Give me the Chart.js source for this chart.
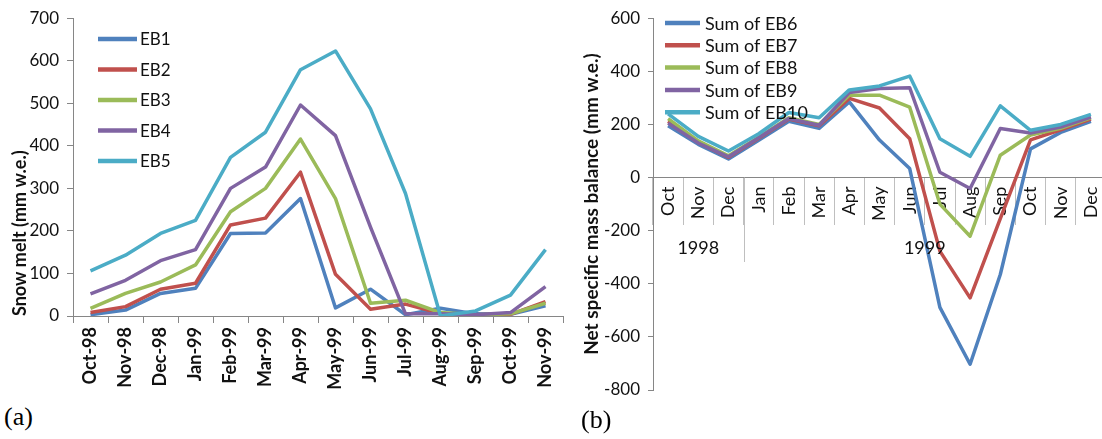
<!DOCTYPE html>
<html>
<head>
<meta charset="utf-8">
<script src="https://cdn.jsdelivr.net/npm/chart.js@4.4.0/dist/chart.umd.min.js"></script>
<style>
  body { margin: 0; background: #fff; overflow: hidden; width: 1102px; height: 439px; position: relative; }
  #wa { position: absolute; left: 0; top: 0; width: 600px; height: 400px; }
  #wb { position: absolute; left: 560px; top: 0; width: 560px; height: 439px; }
  .tag { position: absolute; font-family: "Liberation Serif", serif; font-size: 26px; color: #000; line-height: 30px; }
</style>
</head>
<body>
<div id="wa"><canvas id="chartA"></canvas></div>
<div id="wb"><canvas id="chartB"></canvas></div>
<div class="tag" style="left:4px; top:402px">(a)</div>
<div class="tag" style="left:581px; top:405px">(b)</div>
<script>
// panel (a) - snow melt
const monthsA = ["Oct-98", "Nov-98", "Dec-98", "Jan-99", "Feb-99", "Mar-99", "Apr-99",
                 "May-99", "Jun-99", "Jul-99", "Aug-99", "Sep-99", "Oct-99", "Nov-99"];
const eb1 = [3, 14, 53, 65, 194, 195, 276, 19, 63, 3, 18, 5, 4, 24];
const eb2 = [8, 22, 63, 77, 214, 230, 338, 98, 16, 28, 6, 3, 4, 34];
const eb3 = [18, 53, 80, 120, 245, 300, 416, 276, 30, 37, 8, 3, 5, 30];
const eb4 = [52, 84, 130, 156, 300, 350, 496, 424, 209, 5, 5, 3, 8, 69];
const eb5 = [106, 143, 194, 225, 373, 432, 579, 623, 487, 288, 0, 12, 49, 156];

// panel (b) - net specific mass balance
const monthsB = ["Oct", "Nov", "Dec", "Jan", "Feb", "Mar", "Apr", "May",
                 "Jun", "Jul", "Aug", "Sep", "Oct", "Nov", "Dec"];
const years = ["1998", "1999"];
const yearSpan = [3, 12];
const eb6 = [195, 125, 70, 140, 212, 185, 285, 141, 34, -489, -703, -365, 108, 170, 212];
const eb7 = [212, 132, 76, 148, 220, 195, 298, 262, 146, -277, -453, -155, 142, 180, 220];
const eb8 = [222, 138, 82, 152, 225, 200, 310, 310, 265, -100, -221, 84, 160, 185, 225];
const eb9 = [205, 130, 78, 150, 222, 197, 320, 335, 338, 20, -41, 185, 168, 190, 228];
const eb10 = [240, 155, 100, 165, 245, 225, 330, 345, 382, 146, 80, 270, 178, 200, 238];

const colors = ["#4F81BD", "#C0504D", "#9BBB59", "#8064A2", "#4BACC6"];
const axisGrey = "#868686";
const font = "Lato";

function series(label, data, i) {
  return {
    label: label,
    data: data,
    borderColor: colors[i],
    backgroundColor: colors[i],
    borderWidth: 3.5,
    borderJoinStyle: "round",
    pointRadius: 0,
    tension: 0,
    order: 5 - i,
  };
}

// legend drawn inside the plot, like the excel one
const boxLegend = {
  id: "boxLegend",
  afterDatasetsDraw(chart, args, opts) {
    const ctx = chart.ctx;
    ctx.save();
    ctx.font = opts.font;
    ctx.textBaseline = "middle";
    chart.data.datasets.forEach((ds, i) => {
      const y = opts.y + i * opts.gap;
      ctx.strokeStyle = ds.borderColor;
      ctx.lineWidth = 4.5;
      ctx.beginPath();
      ctx.moveTo(opts.x, y);
      ctx.lineTo(opts.x + opts.len, y);
      ctx.stroke();
      ctx.fillStyle = "#111";
      ctx.fillText(ds.label, opts.x + opts.len + opts.pad, y + 1);
    });
    ctx.restore();
  },
};

// year row under the month labels of panel (b)
const yearRow = {
  id: "yearRow",
  afterDraw(chart, args, opts) {
    const x = chart.scales.x, y = chart.scales.y, ctx = chart.ctx;
    const y0 = y.getPixelForValue(0);
    const half = (x.getPixelForValue(1) - x.getPixelForValue(0)) / 2;
    ctx.save();
    ctx.font = opts.font;
    ctx.fillStyle = "#111";
    ctx.textAlign = "center";
    ctx.textBaseline = "middle";
    ctx.strokeStyle = "#bfbfbf";
    ctx.lineWidth = 1;
    let start = 0;
    years.forEach((yr, k) => {
      const l = x.getPixelForValue(start) - half;
      const r = x.getPixelForValue(start + yearSpan[k] - 1) + half;
      ctx.fillText(yr, (l + r) / 2, opts.textY);
      if (k > 0) {
        ctx.beginPath();
        ctx.moveTo(Math.round(l) + 0.5, y0);
        ctx.lineTo(Math.round(l) + 0.5, opts.lineEnd);
        ctx.stroke();
      }
      start += yearSpan[k];
    });
    ctx.restore();
  },
};

const configA = {
  type: "line",
  data: {
    labels: monthsA,
    datasets: [
      series("EB1", eb1, 0),
      series("EB2", eb2, 1),
      series("EB3", eb3, 2),
      series("EB4", eb4, 3),
      series("EB5", eb5, 4),
    ],
  },
  options: {
    animation: false,
    responsive: true,
    maintainAspectRatio: false,
    layout: { padding: { top: 17, right: 37, bottom: 0, left: 0 } },
    plugins: {
      legend: { display: false },
      tooltip: { enabled: false },
      boxLegend: { x: 98, y: 39, gap: 30.5, len: 39, pad: 3, font: "17px Lato" },
    },
    scales: {
      x: {
        offset: true,
        grid: { offset: true, drawOnChartArea: false, tickLength: 7, color: axisGrey },
        border: { color: axisGrey },
        ticks: {
          autoSkip: false, minRotation: 90, maxRotation: 90, padding: 4,
          color: "#111", font: { family: font, size: 18, weight: "bold" },
        },
        afterFit(scale) { scale.height = 84; },
      },
      y: {
        min: 0, max: 700,
        ticks: { stepSize: 100, padding: 8, color: "#111", font: { family: font, size: 17 } },
        grid: { drawOnChartArea: false, tickLength: 6, color: axisGrey },
        border: { color: axisGrey },
        title: {
          display: true, text: "Snow melt (mm w.e.)", align: "start",
          color: "#111", font: { family: font, size: 18, weight: "bold" },
          padding: { top: 9, bottom: 0 },
        },
        afterFit(scale) { scale.width = 73; },
      },
    },
  },
  plugins: [boxLegend],
};

const configB = {
  type: "line",
  data: {
    labels: monthsB,
    datasets: [
      series("Sum of EB6", eb6, 0),
      series("Sum of EB7", eb7, 1),
      series("Sum of EB8", eb8, 2),
      series("Sum of EB9", eb9, 3),
      series("Sum of EB10", eb10, 4),
    ],
  },
  options: {
    animation: false,
    responsive: true,
    maintainAspectRatio: false,
    layout: { padding: { top: 15, right: 14, bottom: 49, left: 0 } },
    plugins: {
      legend: { display: false },
      tooltip: { enabled: false },
      boxLegend: { x: 105, y: 23, gap: 22.3, len: 35, pad: 5, font: "18px Lato" },
      yearRow: { textY: 248, lineEnd: 262, font: "18px Lato" },
    },
    scales: {
      x: {
        position: { y: 0 },
        offset: true,
        grid: { offset: true, drawOnChartArea: false, tickLength: 47, color: "#bfbfbf" },
        border: { color: axisGrey },
        ticks: {
          autoSkip: false, minRotation: 90, maxRotation: 90, padding: -38,
          color: "#111", font: { family: font, size: 18 },
        },
      },
      y: {
        min: -800, max: 600,
        ticks: { stepSize: 200, padding: 8, color: "#111", font: { family: font, size: 17 } },
        grid: { drawOnChartArea: false, tickLength: 5, color: axisGrey },
        border: { color: axisGrey },
        title: {
          display: true, text: "Net specific mass balance (mm w.e.)",
          color: "#111", font: { family: font, size: 19, weight: "bold" },
          padding: { top: 20, bottom: 0 },
        },
        afterFit(scale) { scale.width = 93; },
      },
    },
  },
  plugins: [boxLegend, yearRow],
};

const chartA = new Chart(document.getElementById("chartA").getContext("2d"), configA);
const chartB = new Chart(document.getElementById("chartB").getContext("2d"), configB);
</script>
</body>
</html>
